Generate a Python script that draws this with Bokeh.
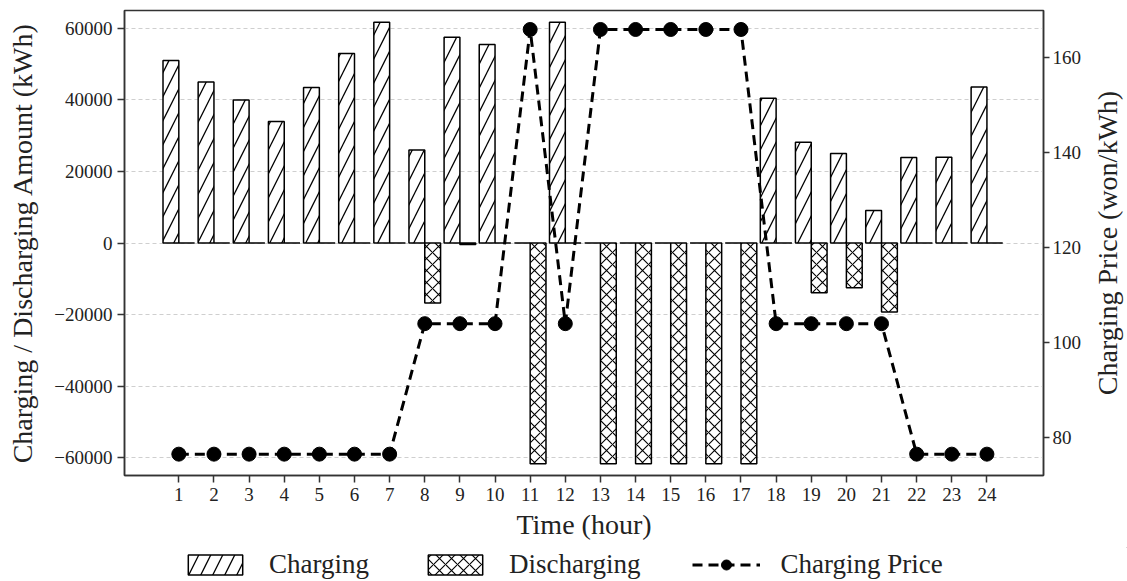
import math
from bokeh.plotting import figure
from bokeh.layouts import column, row
from bokeh.models import (Range1d, LinearAxis, FixedTicker, Legend, LegendItem, Label,
                          CustomJSTickFormatter, ColumnDataSource)
from bokeh.transform import dodge
from bokeh.embed import file_html
from bokeh.resources import INLINE

hours = [1, 2, 3, 4, 5, 6, 7, 8, 9, 10, 11, 12, 13, 14, 15, 16, 17, 18, 19, 20, 21, 22, 23, 24]
charging = [51000, 45000, 40000, 34000, 43500, 53000, 61700, 26000, 57500, 55500, 0, 61700,
            0, 0, 0, 0, 0, 40500, 28200, 25000, 9100, 23900, 24000, 43600]
discharging = [0, 0, 0, 0, 0, 0, 0, -16800, -400, 0, -61700, 0,
               -61700, -61700, -61700, -61700, -61700, 0, -13900, -12500, -19300, 0, 0, 0]
price = [76.5, 76.5, 76.5, 76.5, 76.5, 76.5, 76.5, 104, 104, 104, 166, 104,
         166, 166, 166, 166, 166, 104, 104, 104, 104, 76.5, 76.5, 76.5]
left_ticks = [-60000, -40000, -20000, 0, 20000, 40000, 60000]
right_ticks = [80, 100, 120, 140, 160]

FONT = "Liberation Serif"
TXT = "#222222"

CH_STYLE = dict(fill_color="white", line_color="black", line_width=1.5,
                hatch_pattern="/", hatch_scale=24, hatch_weight=1.3, hatch_color="black")
DIS_STYLE = dict(fill_color="white", line_color="black", line_width=1.5,
                 hatch_pattern="x", hatch_scale=12, hatch_weight=1.1, hatch_color="black")
LINE_STYLE = dict(line_color="black", line_width=3, line_dash="10 6")
PT_STYLE = dict(size=14, fill_color="black", line_color="black")

src = ColumnDataSource(dict(hour=hours, charging=charging, discharging=discharging, price=price))

p = figure(width=1087, height=547, output_backend="svg", toolbar_location=None,
           x_range=Range1d(-0.546, 25.61), y_range=Range1d(-65000, 65000),
           min_border_left=124, min_border_right=44, min_border_top=10, min_border_bottom=72)
p.extra_y_ranges = {"price": Range1d(72, 170)}

bw = 0.45
p.vbar(x=dodge("hour", -bw / 2, range=p.x_range), width=bw, top="charging", bottom=0,
       source=src, **CH_STYLE)
p.vbar(x=dodge("hour", bw / 2, range=p.x_range), width=bw, top="discharging", bottom=0,
       source=src, **DIS_STYLE)
p.line("hour", "price", source=src, y_range_name="price", **LINE_STYLE)
p.scatter("hour", "price", source=src, y_range_name="price", **PT_STYLE)

# axes styling
p.xaxis.ticker = FixedTicker(ticks=hours)
p.yaxis.ticker = FixedTicker(ticks=left_ticks)
p.yaxis.formatter = CustomJSTickFormatter(code="return tick < 0 ? '\u2212' + Math.abs(tick) : '' + tick;")
p.xaxis.axis_label = "Time (hour)"
p.yaxis.axis_label = "Charging / Discharging Amount (kWh)"

ax_r = LinearAxis(y_range_name="price", ticker=FixedTicker(ticks=right_ticks))
p.add_layout(ax_r, "right")

for ax in [p.xaxis[0], p.yaxis[0], ax_r]:
    ax.major_label_text_font = FONT
    ax.major_label_text_font_size = "19px"
    ax.major_label_text_color = TXT
    ax.axis_label_text_font = FONT
    ax.axis_label_text_font_size = "28px"
    ax.axis_label_text_font_style = "normal"
    ax.axis_label_text_color = TXT
    ax.axis_line_color = "#333333"
    ax.axis_line_width = 1.5
    ax.major_tick_line_color = "#333333"
    ax.major_tick_line_width = 1.5
    ax.major_tick_out = 7
    ax.major_tick_in = 0
    ax.minor_tick_line_color = None
    ax.major_label_standoff = 5
    ax.axis_label_standoff = 5

p.yaxis[0].axis_label_standoff = 13
ax_r.major_tick_out = 6
ax_r.major_label_standoff = 3

p.outline_line_color = "#333333"
p.outline_line_width = 1.5
p.xgrid.visible = False
p.ygrid.grid_line_color = "#cfcfcf"
p.ygrid.grid_line_dash = "4 3"
p.ygrid.grid_line_width = 1

# right-hand axis title strip, reading bottom-to-top like the reference
rt = figure(width=40, height=547, output_backend="svg", toolbar_location=None,
            x_range=Range1d(0, 1), y_range=Range1d(0, 1),
            x_axis_location=None, y_axis_location=None,
            min_border_left=0, min_border_right=0, min_border_top=10, min_border_bottom=72)
rt.grid.visible = False
rt.outline_line_color = None
rt.add_layout(Label(text="Charging Price (won/kWh)", x=0.5, y=0.5, angle=math.pi / 2,
                    text_align="center", text_baseline="middle",
                    text_font=FONT, text_font_size="28px", text_color=TXT))

# legend strip below the chart (glyph samples lie outside the visible range)
lg = figure(width=1127, height=34, output_backend="svg", toolbar_location=None,
            x_range=Range1d(0, 1), y_range=Range1d(0, 1),
            x_axis_location=None, y_axis_location=None,
            min_border_left=124, min_border_right=0, min_border_top=0, min_border_bottom=0)
lg.grid.visible = False
lg.outline_line_color = None
l_ch = lg.vbar(x=[5], width=0.1, top=[5], bottom=4, **CH_STYLE)
l_dis = lg.vbar(x=[5], width=0.1, top=[5], bottom=4, **DIS_STYLE)
l_line = lg.line(x=[5, 6], y=[5, 5], **LINE_STYLE)
l_pt = lg.scatter(x=[5], y=[5], **PT_STYLE)

legend = Legend(items=[LegendItem(label="Charging", renderers=[l_ch]),
                       LegendItem(label="Discharging", renderers=[l_dis]),
                       LegendItem(label="Charging Price", renderers=[l_line, l_pt])],
                orientation="horizontal", location=(57, 1),
                glyph_width=68, glyph_height=25, label_standoff=20, spacing=52,
                padding=0, margin=0, border_line_alpha=0, background_fill_alpha=0,
                label_text_font=FONT, label_text_font_size="27px", label_text_color=TXT)
lg.add_layout(legend, "center")

layout = column(row(p, rt, spacing=0), lg, spacing=0)
open("out.html", "w").write(file_html(layout, INLINE))
